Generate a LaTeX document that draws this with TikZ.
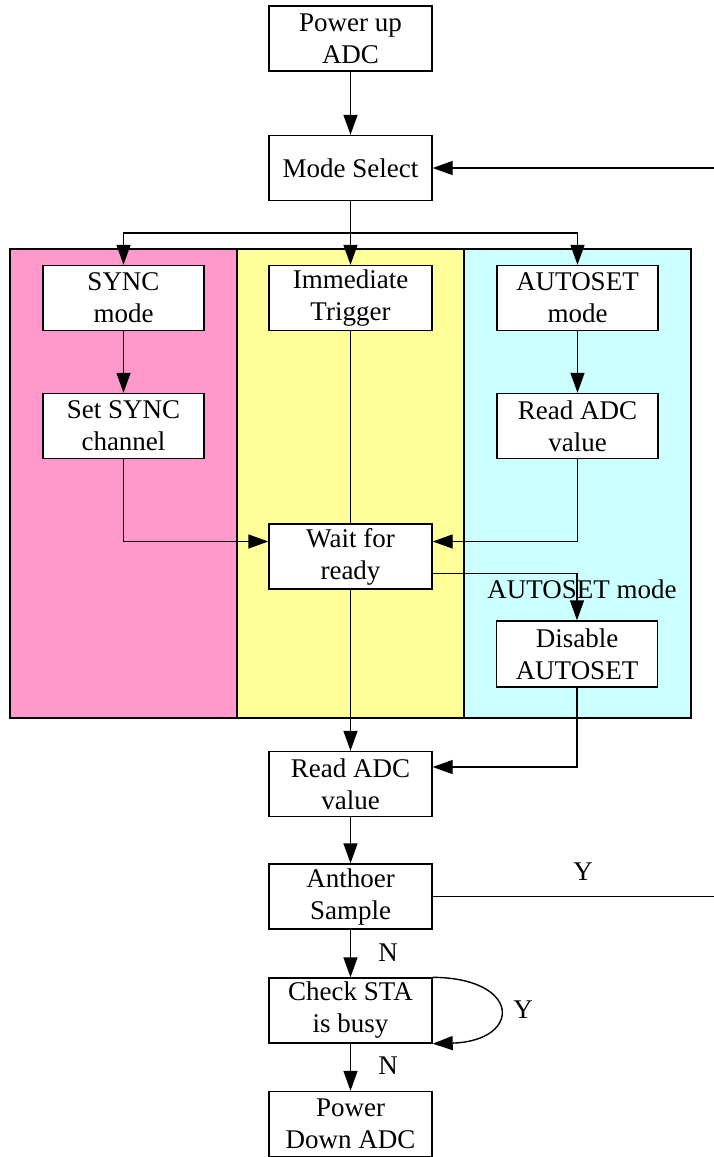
\documentclass[tikz,border=0pt]{standalone}
\usepackage{fontspec}
\setmainfont{Liberation Serif}
\usetikzlibrary{arrows.meta,calc}
\definecolor{pinkp}{RGB}{255,153,204}
\definecolor{yellowp}{RGB}{255,255,153}
\definecolor{cyanp}{RGB}{204,255,255}
\begin{document}
\begin{tikzpicture}[x=1pt,y=-1pt,
  box/.style={draw,fill=white,line width=1.4pt,minimum width=163pt,minimum height=65pt,inner sep=0pt,align=center,
    font=\fontsize{27}{32}\selectfont},
  lbl/.style={font=\fontsize{27}{32}\selectfont,inner sep=0pt},
  panel/.style={draw,line width=1.4pt},
  con/.style={line width=1.4pt},
  arr/.style={con,-{Triangle[length=20pt,width=14pt]}}]
\useasboundingbox (0,0) rectangle (714,1157);
% panels
\path[panel,fill=pinkp] (10,249) rectangle (237,718);
\path[panel,fill=yellowp] (237,249) rectangle (464,718);
\path[panel,fill=cyanp] (464,249) rectangle (691,718);
% nodes
\node[box] (pwr) at (350.5,38.5) {Power up\\ADC};
\node[box] (mode) at (350.5,168) {Mode Select};
\node[box,minimum width=161pt] (sync) at (123.5,298) {SYNC\\mode};
\node[box] (imm) at (350.5,298) {Immediate\\Trigger};
\node[box,minimum width=161pt] (auto) at (577.5,298) {AUTOSET\\mode};
\node[box,minimum width=161pt] (setsync) at (123.5,426) {Set SYNC\\channel};
\node[box,minimum width=161pt] (readr) at (577.5,426) {Read ADC\\value};
\node[box] (wait) at (350.5,556.5) {Wait for\\ready};
\node[box,minimum width=161pt,minimum height=66pt] (dis) at (577,654) {Disable\\AUTOSET};
\node[box] (read) at (350.5,784) {Read ADC\\value};
\node[box] (anth) at (350.5,896.5) {Anthoer\\Sample};
\node[box] (check) at (350.5,1010.5) {Check STA\\is busy};
\node[box] (down) at (350.5,1124) {Power\\Down ADC};
% coordinates
\coordinate (split) at (350.5,233);
\coordinate (inR) at (714,168);
\coordinate (outR) at (714,896.5);
% labels
\node[lbl] (lauto) at (582,589) {AUTOSET mode};
\node[lbl] (ly1) at (583,872) {Y};
\node[lbl] (ln1) at (388,953) {N};
\node[lbl] (ly2) at (523,1010) {Y};
\node[lbl] (ln2) at (388,1066) {N};
% connectors
\draw[arr] (pwr) -- (mode);
\draw[con] (mode) -- (split);
\draw[arr] (split) -- (imm);
\draw[arr] (split) -| (sync.north);
\draw[arr] (split) -| (auto.north);
\draw[arr] (inR) -- (mode);
\draw[arr] (sync) -- (setsync);
\draw[arr] (auto) -- (readr);
\draw[arr] (setsync.south) |- ($(wait.west)+(0,-15)$);
\draw[arr] (readr.south) |- ($(wait.east)+(0,-15)$);
\draw[con] (imm) -- (wait);
\draw[arr] ($(wait.east)+(0,17)$) -| (dis.north);
\draw[arr] (wait) -- (read);
\draw[arr] (dis.south) |- ($(read.east)+(0,-17)$);
\draw[arr] (read) -- (anth);
\draw[con] (anth.east) -- (outR);
\draw[arr] (anth) -- (check);
\draw[arr] (check.north east) .. controls (522,978) and (522,1041) .. (check.south east);
\draw[arr] (check) -- (down);
\end{tikzpicture}
\end{document}
